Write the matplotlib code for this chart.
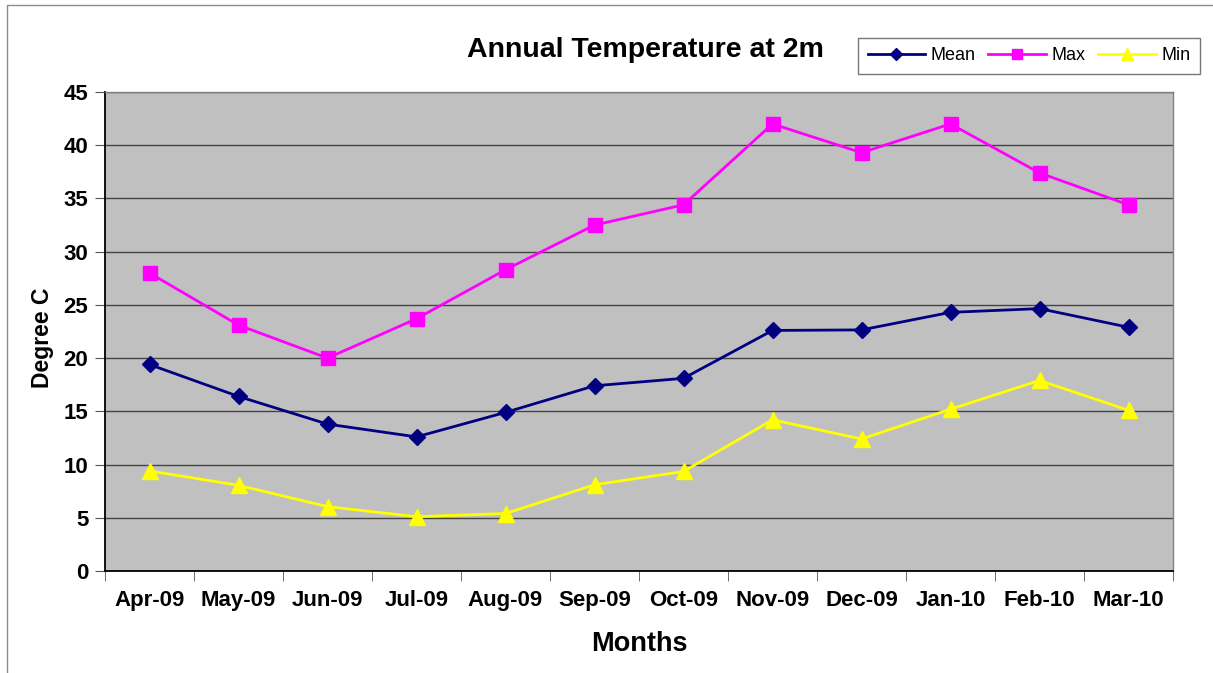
import matplotlib
matplotlib.use("Agg")
import matplotlib.pyplot as plt
import numpy as np
from matplotlib.patches import Rectangle
from matplotlib.ticker import FixedLocator

plt.rcParams['font.family'] = ['Liberation Sans', 'DejaVu Sans']

mesi = ['Apr-09', 'May-09', 'Jun-09', 'Jul-09', 'Aug-09', 'Sep-09',
        'Oct-09', 'Nov-09', 'Dec-09', 'Jan-10', 'Feb-10', 'Mar-10']
t_mean = [19.4, 16.4, 13.8, 12.6, 14.9, 17.4, 18.1, 22.6, 22.65, 24.3, 24.65, 22.9]
t_max = [28.0, 23.1, 20.0, 23.7, 28.3, 32.5, 34.4, 42.0, 39.3, 42.0, 37.4, 34.4]
t_min = [9.4, 8.05, 6.05, 5.1, 5.4, 8.1, 9.35, 14.2, 12.4, 15.2, 17.9, 15.1]

fig = plt.figure(figsize=(12.13, 6.73), dpi=100)

# bordo grigio della figura (tagliato a destra e in basso)
fig.patches.append(Rectangle((7/1213, -0.1), 1.2, 1.1 - 5/673,
                             transform=fig.transFigure, fill=False,
                             edgecolor='#8c8c8c', linewidth=1.0))

ax = fig.add_axes([105/1213, 102/673, 1068/1213, 479/673])
ax.set_facecolor('#C0C0C0')

x = np.arange(len(mesi))
ax.plot(x, t_mean, color='#000080', marker='D', markersize=8, linewidth=2, label='Mean')
ax.plot(x, t_max, color='#FF00FF', marker='s', markersize=10, linewidth=2, label='Max')
ax.plot(x, t_min, color='#FFFF00', marker='^', markersize=11, linewidth=2, label='Min')

ax.set_xlim(-0.5, len(mesi) - 0.5)
ax.set_ylim(0, 45)
ax.set_yticks(np.arange(0, 46, 5))
ax.yaxis.grid(True, color='#444444', linewidth=1)
ax.set_axisbelow(True)

# tick tra le categorie, etichette al centro
ax.set_xticks(x)
ax.set_xticklabels(mesi, fontsize=16, fontweight='bold')
ax.xaxis.set_minor_locator(FixedLocator(np.arange(-0.5, len(mesi), 1)))
ax.tick_params(axis='x', which='major', length=0, pad=14)
ax.tick_params(axis='x', which='minor', length=7, color='#555555', direction='out')
ax.tick_params(axis='y', length=7, color='#555555', direction='out', labelsize=16, pad=5)
for lab in ax.get_yticklabels():
    lab.set_fontweight('bold')

for side in ['left', 'bottom']:
    ax.spines[side].set_color('black')
    ax.spines[side].set_linewidth(1.3)
for side in ['right', 'top']:
    ax.spines[side].set_color('#808080')
    ax.spines[side].set_linewidth(1)

ax.set_xlabel('Months', fontsize=19.5, fontweight='bold', labelpad=14)
ax.set_ylabel('Degree C', fontsize=16.5, fontweight='bold')
ax.yaxis.set_label_coords(-0.048, 0.486)

fig.text(645/1213, 1 - 50/673, 'Annual Temperature at 2m', ha='center', va='center',
         fontsize=20.5, fontweight='bold')

leg = fig.legend(loc='center', bbox_to_anchor=(1029/1213, 1 - 56/673), ncol=3,
                 fontsize=13, frameon=True, fancybox=False, edgecolor='#555555',
                 handlelength=3.2, columnspacing=0.7, handletextpad=0.3,
                 borderpad=0.55, markerscale=0.75)
leg.get_frame().set_linewidth(1)

plt.savefig('out.png', dpi=100)
